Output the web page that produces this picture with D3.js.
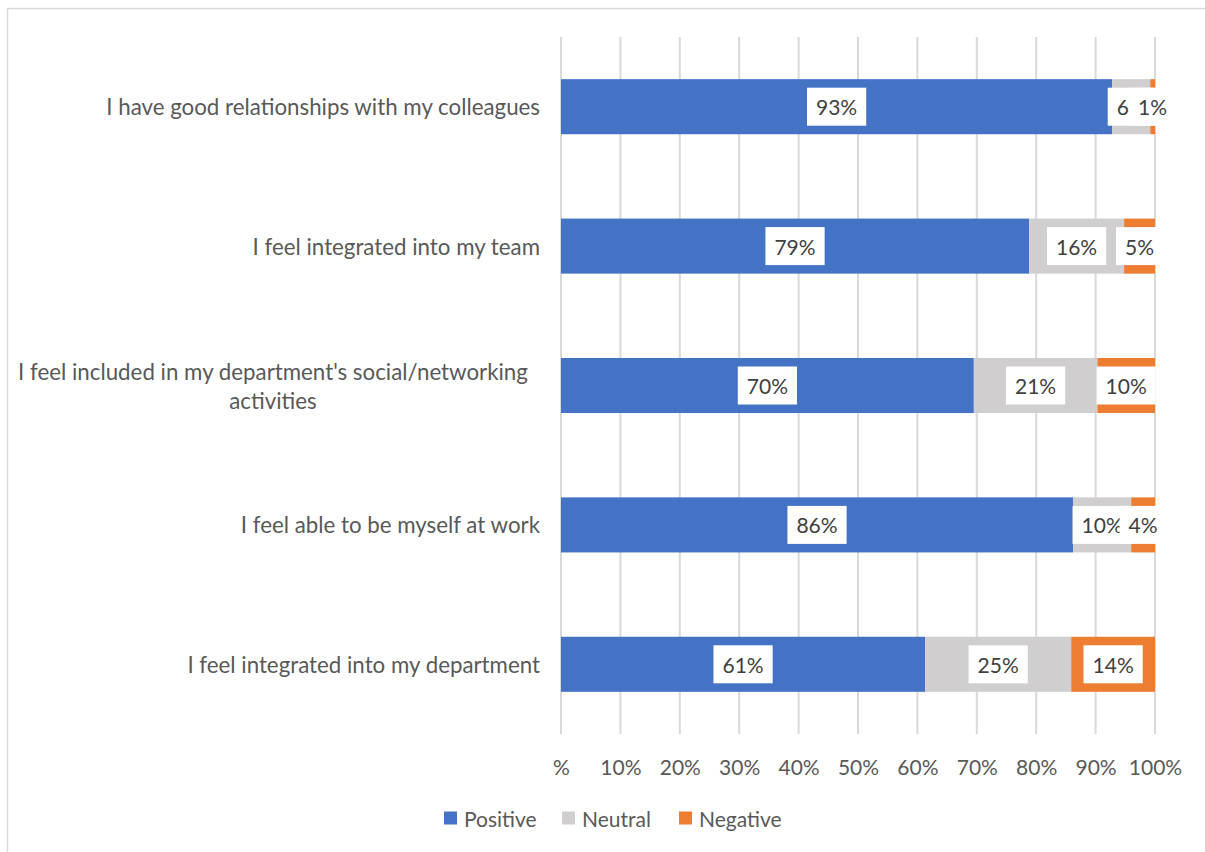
<!DOCTYPE html>
<html>
<head>
<meta charset="utf-8">
<script src="https://cdn.jsdelivr.net/npm/d3@7"></script>
<style>
  html, body { margin: 0; padding: 0; background: #fff; }
  svg { display: block; }
  text { font-family: Lato, "Open Sans", sans-serif; }
</style>
</head>
<body>
<svg id="chart" width="1205" height="852"></svg>
<script>
// Survey statements, top to bottom
const categories = [
  "I have good relationships with my colleagues",
  "I feel integrated into my team",
  "I feel included in my department's social/networking activities",
  "I feel able to be myself at work",
  "I feel integrated into my department"
];
// Share of responses (%) per statement
const positive = [92.8, 78.8, 69.5, 86.2, 61.3];
const neutral  = [6.4, 16.0, 20.8, 9.8, 24.6];
const negative = [0.8, 5.2, 9.7, 4.0, 14.1];

const seriesNames = ["Positive", "Neutral", "Negative"];
const tickValues = [0, 10, 20, 30, 40, 50, 60, 70, 80, 90, 100];
const tickLabels = ["%", "10%", "20%", "30%", "40%", "50%", "60%", "70%", "80%", "90%", "100%"];

const colors = { Positive: "#4472C4", Neutral: "#D0CECE", Negative: "#ED7D31" };

const svg = d3.select("#chart");
const W = 1205, H = 852;
const plot = { left: 561, right: 1155, top: 37, bottom: 734 };
const fontSize = 21;
const catFontSize = 22.3;

// chart frame
svg.append("rect")
  .attr("x", 7.5).attr("y", 8.5)
  .attr("width", W).attr("height", H)
  .attr("fill", "#fff").attr("stroke", "#D9D9D9").attr("stroke-width", 1.5);

const x = d3.scaleLinear().domain([0, 100]).range([plot.left, plot.right]);
const y = d3.scaleBand().domain(categories).range([plot.top, plot.bottom]).paddingInner(0.605).paddingOuter(0.3025);

// vertical gridlines
svg.append("g").selectAll("line").data(tickValues).join("line")
  .attr("x1", d => x(d)).attr("x2", d => x(d))
  .attr("y1", plot.top).attr("y2", plot.bottom)
  .attr("stroke", "#D9D9D9").attr("stroke-width", 2);

// tick labels under the plot
const xAxis = d3.axisBottom(x).tickValues(tickValues)
  .tickFormat((d, i) => tickLabels[i]).tickSize(0).tickPadding(0);
const axisG = svg.append("g").attr("transform", `translate(0, ${plot.bottom + 26})`).call(xAxis);
axisG.select(".domain").remove();
axisG.selectAll("text")
  .attr("font-family", "Lato, 'Open Sans', sans-serif")
  .attr("font-size", fontSize).attr("fill", "#595959");

// stacked rows
const rows = categories.map((c, i) => ({
  category: c,
  Positive: positive[i], Neutral: neutral[i], Negative: negative[i]
}));
const stack = d3.stack().keys(seriesNames)(rows);

const layers = svg.append("g").selectAll("g").data(stack).join("g")
  .attr("fill", d => colors[d.key]);
layers.selectAll("rect").data(d => d).join("rect")
  .attr("x", d => x(d[0]))
  .attr("width", d => x(d[1]) - x(d[0]))
  .attr("y", d => y(d.data.category))
  .attr("height", y.bandwidth());

// value labels on white boxes, drawn series by series so later ones sit on top
const labelLayer = svg.append("g");
stack.forEach(layer => {
  layer.forEach(d => {
    const v = d[1] - d[0];
    const cx = (x(d[0]) + x(d[1])) / 2;
    const cy = y(d.data.category) + y.bandwidth() / 2;
    const g = labelLayer.append("g");
    const box = g.append("rect").attr("fill", "#fff");
    const t = g.append("text")
      .attr("x", cx).attr("y", cy)
      .attr("text-anchor", "middle").attr("dominant-baseline", "central")
      .attr("font-size", fontSize).attr("fill", "#404040")
      .text(Math.round(v) + "%");
    const w = t.node().getComputedTextLength();
    box.attr("x", cx - w / 2 - 9).attr("y", cy - 19)
      .attr("width", w + 18).attr("height", 38);
  });
});

// category labels, wrapping the long one onto two centred lines
const catG = svg.append("g");
const labelRight = 540;
const labelCentre = 273;
const measure = s => {
  const p = catG.append("text").attr("font-size", catFontSize).text(s);
  const w = p.node().getComputedTextLength();
  p.remove();
  return w;
};
categories.forEach(c => {
  const cy = y(c) + y.bandwidth() / 2;
  const maxW = 520;
  if (measure(c) <= maxW) {
    catG.append("text")
      .attr("x", labelRight).attr("y", cy)
      .attr("text-anchor", "end").attr("dominant-baseline", "central")
      .attr("font-size", catFontSize).attr("fill", "#595959")
      .text(c);
  } else {
    const lines = [];
    let line = [];
    c.split(" ").forEach(wd => {
      const test = line.concat(wd).join(" ");
      if (measure(test) > maxW && line.length) { lines.push(line.join(" ")); line = [wd]; }
      else line.push(wd);
    });
    lines.push(line.join(" "));
    const lh = 29;
    lines.forEach((ln, k) => {
      catG.append("text")
        .attr("x", labelCentre).attr("y", cy + (k - (lines.length - 1) / 2) * lh)
        .attr("text-anchor", "middle").attr("dominant-baseline", "central")
        .attr("font-size", catFontSize).attr("fill", "#595959")
        .text(ln);
    });
  }
});

// legend
const legend = svg.append("g").attr("transform", "translate(0, 818)");
const legendX = [444, 562, 679];
seriesNames.forEach((s, i) => {
  legend.append("rect")
    .attr("x", legendX[i]).attr("y", -6.5).attr("width", 13).attr("height", 13)
    .attr("fill", colors[s]);
  legend.append("text")
    .attr("x", legendX[i] + 20).attr("y", 0)
    .attr("dominant-baseline", "central")
    .attr("font-size", fontSize).attr("fill", "#595959")
    .text(s);
});
</script>
</body>
</html>
